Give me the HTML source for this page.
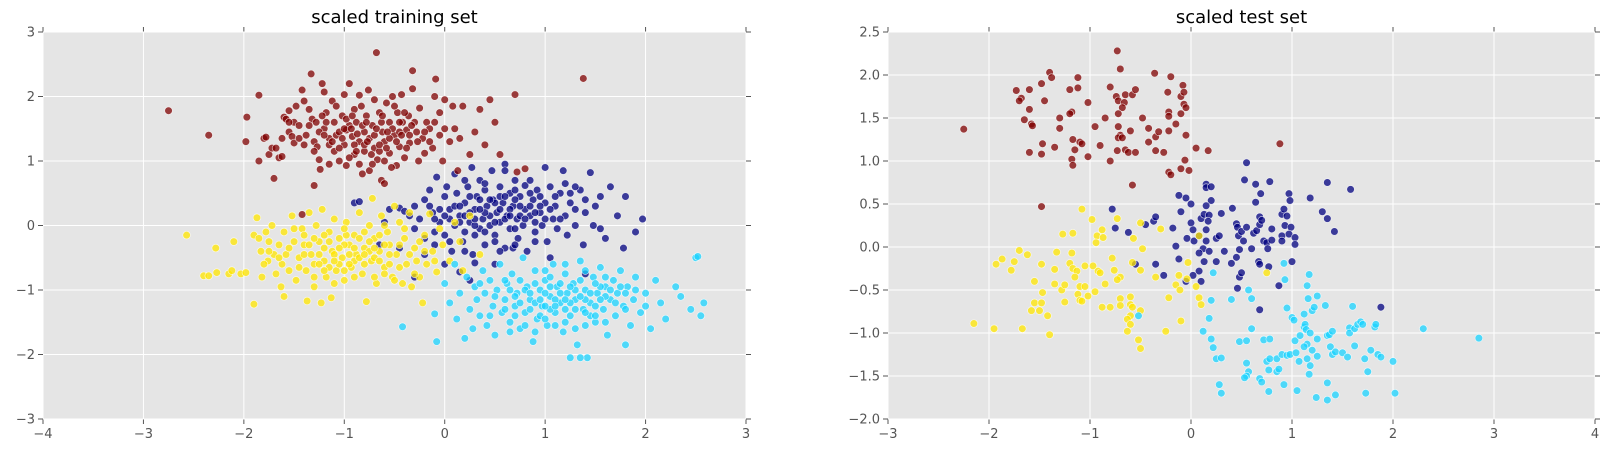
<!DOCTYPE html>
<html><head><meta charset="utf-8"><style>
html,body{margin:0;padding:0;background:#fff;}
svg{display:block;font-family:"DejaVu Sans","Liberation Sans",sans-serif;}
</style></head><body>
<svg id="chart" width="1606" height="454" viewBox="0 0 1606 454" xmlns="http://www.w3.org/2000/svg"></svg>
<script>
const trainRed=[[-2.75,1.78],[-2.35,1.4],[-1.97,1.68],[-1.98,1.3],[-1.85,2.02],[-1.85,1.0],[-1.8,1.35],[-1.78,1.37],[-1.75,1.1],[-1.72,1.2],[-1.7,0.73],[-1.68,1.2],[-1.65,1.05],[-1.62,1.07],[-1.6,1.68],[-1.58,1.65],[-1.55,1.78],[-1.55,1.45],[-1.52,1.38],[-1.5,1.6],[-1.5,1.28],[-1.48,1.85],[-1.45,1.55],[-1.42,2.1],[-1.4,1.93],[-1.38,1.4],[-1.35,1.8],[-1.33,2.35],[-1.32,1.65],[-1.3,1.3],[-1.28,1.6],[-1.27,1.22],[-1.25,1.02],[-1.24,0.87],[-1.22,2.2],[-1.2,1.5],[-1.2,2.07],[-1.18,1.75],[-1.15,1.35],[-1.12,1.93],[-1.1,1.6],[-1.1,1.15],[-1.08,1.4],[-1.05,1.45],[-1.05,1.0],[-1.02,1.7],[-1.0,2.03],[-1.0,1.25],[-0.98,0.93],[-0.95,1.55],[-0.95,2.2],[-0.92,1.38],[-0.9,1.8],[-0.9,1.1],[-0.88,1.6],[-0.85,1.3],[-0.85,2.02],[-0.82,0.8],[-0.8,1.45],[-0.8,1.15],[-0.78,1.7],[-0.76,2.1],[-0.75,1.35],[-0.75,0.85],[-0.72,1.55],[-0.7,1.95],[-0.7,1.2],[-0.68,2.68],[-0.67,1.02],[-0.65,1.75],[-0.63,0.7],[-0.62,1.45],[-0.6,1.3],[-0.6,0.65],[-0.58,1.9],[-0.55,1.6],[-0.55,1.12],[-0.52,2.0],[-0.5,1.4],[-0.48,0.93],[-0.47,1.75],[-0.45,1.22],[-0.43,2.03],[-0.42,1.6],[-0.4,1.05],[-0.38,1.48],[-0.36,1.7],[-0.35,1.28],[-0.32,2.12],[-0.32,2.4],[-0.3,1.6],[-0.28,1.45],[-0.26,1.0],[-0.25,1.82],[-0.22,1.35],[-0.2,1.12],[-0.18,1.6],[-0.15,1.5],[-0.12,1.2],[-0.1,2.0],[-0.09,2.27],[-0.05,1.75],[-0.05,1.4],[-0.02,1.0],[0.0,1.95],[0.05,1.3],[0.08,1.85],[0.1,1.5],[0.13,0.85],[0.15,1.35],[0.18,1.85],[0.25,1.1],[0.3,1.45],[0.35,1.8],[0.4,1.25],[0.45,1.95],[0.5,1.6],[0.55,1.1],[0.7,2.03],[0.72,0.83],[0.8,0.88],[1.38,2.28],[-1.42,0.17],[-1.3,0.62],[-0.98,1.48],[-0.9,1.25],[-0.7,1.4],[-0.65,1.15],[-1.15,1.25],[-0.8,1.25],[-0.55,1.35],[-1.0,1.5],[-0.45,1.45]];
const trainRedExtra=[[-1.25,1.45],[-1.18,1.6],[-1.12,1.3],[-1.05,1.2],[-0.98,1.65],[-0.93,1.5],[-0.87,1.42],[-0.82,1.55],[-0.77,1.3],[-0.73,1.1],[-0.68,1.5],[-0.63,1.6],[-0.58,1.2],[-0.52,1.5],[-0.48,1.3],[-0.43,1.4],[-0.38,1.2],[-0.33,1.55],[-0.27,1.3],[-0.2,1.45],[-1.35,1.55],[-1.4,1.25],[-1.45,1.35],[-1.22,1.7],[-1.08,1.85],[-0.92,1.7],[-0.83,1.85],[-0.62,1.7],[-0.5,1.85],[-0.4,1.75],[-0.95,1.05],[-0.85,0.95],[-0.72,0.95],[-0.6,1.0],[-0.53,0.9],[-1.15,0.95],[-1.3,1.15],[-0.15,1.3],[-0.1,1.6],[0.0,1.5],[-1.02,1.35],[-0.88,1.15],[-0.78,1.6],[-0.57,1.45],[-0.65,1.25],[-1.2,1.4],[-0.35,1.4],[-0.45,1.6],[-1.55,1.6],[-1.62,1.35]];
const trainNavy=[[-0.9,0.35],[-0.85,0.37],[-0.55,0.25],[-0.45,0.27],[-0.4,0.22],[-0.35,0.15],[-0.3,0.3],[-0.3,-0.05],[-0.25,0.1],[-0.2,0.4],[-0.2,-0.2],[-0.15,0.55],[-0.12,0.2],[-0.1,-0.3],[-0.08,0.75],[-0.05,0.05],[0.0,0.45],[0.0,-0.15],[0.02,0.6],[0.05,0.25],[0.07,-0.4],[0.1,0.0],[0.1,0.8],[0.12,0.5],[0.15,0.15],[0.18,-0.25],[0.2,0.35],[0.2,-0.1],[0.23,0.6],[0.25,0.05],[0.27,0.9],[0.28,-0.45],[0.3,0.25],[0.32,0.45],[0.35,-0.05],[0.35,0.7],[0.38,0.1],[0.4,0.55],[0.4,-0.3],[0.42,0.3],[0.45,0.0],[0.47,0.85],[0.48,0.4],[0.5,-0.15],[0.52,0.2],[0.55,0.6],[0.55,0.05],[0.58,0.35],[0.6,-0.35],[0.6,0.95],[0.62,0.15],[0.65,0.5],[0.65,-0.05],[0.68,0.3],[0.7,0.7],[0.72,0.1],[0.73,-0.2],[0.75,0.45],[0.78,0.0],[0.8,0.25],[0.8,0.62],[0.82,-0.4],[0.85,0.15],[0.88,0.4],[0.9,-0.1],[0.92,0.55],[0.95,0.2],[0.97,0.0],[1.0,0.35],[1.0,0.9],[1.02,-0.25],[1.05,0.6],[1.08,0.1],[1.1,0.3],[1.12,-0.05],[1.15,0.5],[1.18,0.85],[1.2,0.15],[1.22,-0.15],[1.25,0.35],[1.3,0.0],[1.35,0.55],[1.38,-0.3],[1.4,0.2],[1.45,0.82],[1.48,0.0],[1.55,0.45],[1.6,-0.2],[1.65,0.6],[1.72,0.15],[1.78,-0.35],[1.8,0.45],[1.9,-0.1],[1.97,0.1],[1.55,-0.05],[0.6,0.85],[0.35,0.4],[0.45,0.15],[0.6,0.1],[0.85,0.3],[0.75,0.15],[0.95,0.3],[0.5,0.35],[0.25,0.2],[0.15,0.05],[0.7,-0.05],[1.1,0.45],[0.3,0.0],[0.4,-0.1],[0.05,0.1],[-0.05,0.25],[0.2,0.7],[0.55,0.45],[0.9,0.05],[1.3,0.25],[0.65,0.25],[-0.6,0.05],[-0.45,-0.35],[-0.2,-0.45],[0.0,-0.6],[0.15,-0.72],[0.3,-0.58],[0.5,-0.6],[0.68,-0.35],[1.05,-0.5],[1.4,-0.75],[-0.65,-0.3],[-0.3,-0.8],[0.25,-0.85]];
const trainNavyExtra=[[0.1,0.3],[0.2,0.15],[0.3,0.1],[0.4,0.2],[0.5,0.05],[0.55,0.25],[0.65,0.15],[0.7,0.4],[0.8,0.1],[0.9,0.2],[1.0,0.1],[1.05,0.25],[0.35,0.25],[0.45,0.4],[0.6,0.45],[0.75,0.3],[0.85,0.5],[0.95,0.45],[0.25,0.45],[0.15,0.3],[0.0,0.15],[-0.1,0.1],[-0.15,0.3],[0.3,-0.15],[0.5,-0.25],[0.7,-0.3],[0.9,-0.25],[1.15,0.1],[1.25,0.5],[1.4,0.4],[0.4,0.65],[0.7,0.55],[0.85,0.7],[1.2,0.65],[1.5,0.3],[0.55,-0.4],[0.2,-0.4],[-0.1,-0.1],[0.05,-0.25],[1.3,0.6]];
const trainYellow=[[-2.57,-0.15],[-2.4,-0.78],[-2.35,-0.78],[-2.28,-0.35],[-2.27,-0.73],[-2.15,-0.75],[-2.12,-0.7],[-2.1,-0.25],[-2.03,-0.75],[-1.98,-0.73],[-1.9,-1.22],[-1.9,-0.15],[-1.87,0.12],[-1.85,-0.2],[-1.83,-0.4],[-1.82,-0.8],[-1.78,-0.1],[-1.76,-0.55],[-1.75,-0.25],[-1.72,0.0],[-1.7,-0.45],[-1.68,-0.75],[-1.65,-0.3],[-1.63,-0.95],[-1.62,-0.6],[-1.6,-0.1],[-1.6,-1.1],[-1.58,-0.45],[-1.55,-0.7],[-1.52,0.15],[-1.5,-0.25],[-1.48,-0.85],[-1.45,-0.5],[-1.42,-0.05],[-1.4,-0.3],[-1.38,-0.7],[-1.37,-1.17],[-1.35,0.2],[-1.33,-0.45],[-1.3,-0.6],[-1.3,-0.95],[-1.28,0.0],[-1.25,-0.25],[-1.23,-1.2],[-1.22,0.25],[-1.2,-0.55],[-1.18,-0.8],[-1.15,-0.1],[-1.13,-1.12],[-1.12,-0.4],[-1.1,0.1],[-1.08,-0.7],[-1.05,-0.2],[-1.02,-0.5],[-1.0,-0.85],[-0.98,0.05],[-0.95,-0.3],[-0.93,-0.65],[-0.9,-0.15],[-0.88,-0.45],[-0.85,0.2],[-0.82,-0.75],[-0.8,-0.35],[-0.78,-1.18],[-0.75,0.0],[-0.73,-0.55],[-0.72,0.42],[-0.7,-0.2],[-0.68,-0.9],[-0.65,-0.4],[-0.63,0.15],[-0.6,-0.65],[-0.57,-0.1],[-0.55,-0.3],[-0.52,-0.8],[-0.5,0.3],[-0.48,-0.45],[-0.45,0.05],[-0.42,-0.9],[-0.4,-0.2],[-0.38,-0.6],[-0.35,0.2],[-0.33,-0.95],[-0.3,-0.35],[-0.28,-0.55],[-0.25,-0.8],[-0.22,-1.2],[-0.2,-0.15],[-0.18,-0.6],[-0.15,0.18],[-0.12,-0.4],[-0.08,-0.72],[-0.05,-0.05],[-0.02,-0.3],[0.05,-0.55],[0.1,0.05],[0.15,-0.25],[0.18,-0.7],[0.25,0.15],[0.35,-0.45],[-1.1,-0.45],[-1.0,-0.3],[-0.9,-0.55],[-0.85,-0.2],[-0.75,-0.4],[-1.2,-0.35],[-1.3,-0.2],[-0.95,-0.45],[-1.05,-0.6],[-0.7,-0.5],[-0.6,-0.3],[-1.4,-0.45],[-0.8,-0.6],[-1.15,-0.65],[-0.65,-0.15],[-0.55,-0.6],[-1.25,-0.45],[-0.98,-0.15]];
const trainYellowExtra=[[-1.35,-0.3],[-1.25,-0.6],[-1.15,-0.25],[-1.05,-0.35],[-0.95,-0.6],[-0.85,-0.5],[-0.75,-0.25],[-0.65,-0.55],[-0.55,-0.45],[-0.45,-0.65],[-1.45,-0.65],[-1.55,-0.35],[-1.65,-0.5],[-1.2,-0.15],[-1.0,-0.05],[-0.8,-0.1],[-0.6,0.0],[-0.4,-0.05],[-0.3,-0.75],[-0.5,-0.85],[-0.7,-0.8],[-0.9,-0.8],[-1.1,-0.9],[-1.3,-0.8],[-1.0,-0.7],[-0.8,-0.45],[-1.1,-0.55],[-0.7,-0.35],[-0.9,-0.35],[-1.2,-0.7],[-1.4,-0.15],[-1.5,-0.05],[-0.35,-0.45],[-0.2,-0.4],[-0.1,-0.55],[-0.6,-0.75],[-1.75,-0.4],[-1.8,-0.6],[-0.45,-0.3],[-0.25,-0.25]];
const trainCyan=[[-0.42,-1.57],[-0.08,-1.8],[-0.1,-1.37],[0.0,-0.9],[0.05,-1.2],[0.1,-0.6],[0.12,-1.45],[0.15,-1.05],[0.2,-1.75],[0.22,-0.8],[0.25,-1.3],[0.28,-1.6],[0.3,-0.95],[0.32,-1.15],[0.35,-1.4],[0.38,-0.7],[0.4,-1.05],[0.42,-1.55],[0.45,-0.85],[0.48,-1.25],[0.5,-1.7],[0.52,-1.0],[0.55,-0.6],[0.57,-1.35],[0.6,-1.15],[0.62,-0.9],[0.65,-1.5],[0.67,-0.75],[0.7,-1.25],[0.72,-1.05],[0.75,-1.6],[0.78,-0.5],[0.8,-1.35],[0.82,-0.95],[0.85,-1.15],[0.88,-1.8],[0.9,-0.7],[0.92,-1.45],[0.95,-1.0],[0.97,-1.25],[1.0,-0.85],[1.02,-1.55],[1.05,-1.1],[1.08,-0.6],[1.1,-1.35],[1.12,-0.95],[1.15,-1.2],[1.18,-1.65],[1.2,-0.75],[1.22,-1.05],[1.25,-1.4],[1.28,-0.9],[1.3,-1.15],[1.32,-1.85],[1.35,-0.55],[1.38,-1.3],[1.4,-1.0],[1.42,-2.05],[1.45,-1.2],[1.48,-0.8],[1.5,-1.5],[1.52,-1.05],[1.55,-0.65],[1.58,-1.3],[1.6,-0.95],[1.62,-1.7],[1.65,-1.15],[1.68,-0.85],[1.7,-1.4],[1.72,-1.05],[1.75,-0.7],[1.78,-1.25],[1.8,-1.85],[1.82,-0.95],[1.85,-1.55],[1.88,-1.15],[1.9,-0.8],[1.95,-1.35],[2.0,-1.05],[2.05,-1.6],[2.1,-0.85],[2.15,-1.2],[2.2,-1.45],[2.3,-0.95],[2.35,-1.1],[2.45,-1.3],[2.5,-0.5],[2.52,-0.48],[2.55,-1.4],[2.58,-1.2],[1.25,-2.05],[1.35,-2.05],[0.8,-1.0],[0.9,-1.2],[1.0,-1.05],[1.1,-1.15],[1.2,-1.3],[1.3,-1.0],[1.4,-1.15],[1.5,-1.25],[0.7,-1.1],[0.6,-1.3],[1.6,-1.1],[0.95,-1.4],[1.15,-0.9],[1.35,-0.85],[1.05,-1.3],[0.85,-1.3],[1.45,-1.4],[1.25,-1.2],[1.55,-0.95],[0.75,-0.85],[1.7,-1.2],[0.5,-1.1],[1.8,-1.05],[0.65,-1.0]];
const trainCyanExtra=[[0.85,-1.05],[0.95,-1.15],[1.05,-0.95],[1.15,-1.05],[1.25,-0.95],[1.35,-1.1],[1.45,-1.05],[1.55,-1.15],[1.65,-1.0],[1.0,-1.25],[1.1,-1.25],[1.2,-1.15],[1.3,-1.3],[1.4,-1.35],[0.9,-0.9],[1.0,-0.7],[1.2,-0.6],[1.4,-0.7],[1.6,-0.8],[0.7,-1.4],[0.8,-1.55],[1.0,-1.45],[1.2,-1.5],[1.4,-1.55],[1.6,-1.5],[0.6,-0.85],[0.45,-1.4],[0.35,-0.9],[1.8,-1.3],[1.9,-1.0],[2.0,-1.25],[1.75,-0.95],[1.5,-1.4],[0.75,-1.2],[1.1,-1.55],[1.3,-1.6],[0.65,-1.65],[0.9,-1.65],[1.05,-0.8],[1.5,-0.9]];
const testRed=[[-2.25,1.37],[-1.4,2.03],[-1.38,1.97],[-1.48,1.9],[-1.73,1.82],[-1.68,1.73],[-1.7,1.7],[-1.6,1.83],[-1.6,1.6],[-1.65,1.48],[-1.58,1.43],[-1.57,1.41],[-1.6,1.1],[-1.48,1.08],[-1.47,1.2],[-1.35,1.16],[-1.45,1.7],[-1.3,1.5],[-1.3,1.38],[-1.2,1.83],[-1.12,1.85],[-1.12,1.97],[-1.18,1.57],[-1.2,1.55],[-1.17,1.25],[-1.1,1.22],[-1.08,1.2],[-1.15,1.13],[-1.18,1.02],[-1.17,0.95],[-1.02,1.05],[-1.02,1.68],[-0.95,1.4],[-0.9,1.18],[-0.8,1.0],[-0.85,1.5],[-0.8,1.86],[-0.73,2.28],[-0.7,2.07],[-0.74,1.75],[-0.72,1.7],[-0.65,1.77],[-0.58,1.77],[-0.55,1.83],[-0.66,1.68],[-0.68,1.62],[-0.72,1.55],[-0.72,1.4],[-0.7,1.3],[-0.72,1.27],[-0.68,1.27],[-0.6,1.35],[-0.65,1.13],[-0.73,1.12],[-0.62,1.1],[-0.55,1.1],[-0.48,1.5],[-0.42,1.38],[-0.35,1.28],[-0.32,1.34],[-0.36,2.02],[-0.42,1.22],[-0.35,1.12],[-0.27,1.1],[-0.22,1.57],[-0.22,1.52],[-0.22,1.35],[-0.23,1.8],[-0.2,1.98],[-0.15,1.43],[-0.1,1.75],[-0.08,1.88],[-0.07,1.8],[-0.1,1.55],[-0.07,1.66],[-0.05,1.62],[-0.05,1.3],[0.05,1.15],[0.17,1.12],[-0.06,1.01],[-0.1,0.91],[-0.02,0.89],[-0.22,0.87],[-0.2,0.84],[-0.58,0.72],[-1.48,0.47],[0.88,1.2]];
const testNavy=[[-0.78,0.44],[-0.75,0.22],[-0.62,0.17],[-0.45,0.26],[-0.37,0.3],[-0.35,0.35],[-0.55,-0.2],[-0.35,-0.2],[-0.27,-0.33],[-0.18,0.22],[-0.15,0.01],[-0.12,0.6],[-0.1,0.41],[-0.05,0.57],[0.0,0.5],[0.0,0.28],[0.02,0.2],[-0.04,0.1],[0.03,0.07],[0.08,0.13],[0.1,0.33],[0.15,0.73],[0.15,0.69],[0.2,0.7],[0.2,0.54],[0.15,0.48],[0.13,0.38],[0.18,0.37],[0.17,0.3],[0.15,0.2],[0.15,0.07],[0.12,-0.02],[0.18,-0.05],[0.08,-0.07],[0.13,-0.17],[0.08,-0.28],[0.02,-0.33],[-0.05,-0.4],[0.1,-0.4],[-0.12,-0.14],[0.25,0.1],[0.28,0.13],[0.25,-0.17],[0.3,0.39],[0.33,-0.05],[0.4,-0.19],[0.41,0.45],[0.45,0.27],[0.46,0.23],[0.47,0.13],[0.45,-0.12],[0.48,-0.03],[0.5,0.18],[0.55,0.23],[0.52,0.07],[0.53,0.78],[0.55,0.98],[0.6,-0.02],[0.62,0.16],[0.64,0.73],[0.64,0.52],[0.65,0.19],[0.68,0.26],[0.69,0.62],[0.68,0.35],[0.7,0.31],[0.67,-0.17],[0.68,-0.2],[0.72,0.07],[0.75,0.05],[0.76,-0.02],[0.77,-0.23],[0.78,0.76],[0.8,0.08],[0.8,0.21],[0.9,0.38],[0.92,0.44],[0.93,0.25],[0.97,0.62],[0.98,0.54],[0.95,0.36],[0.99,0.23],[0.9,0.13],[0.97,0.15],[0.9,0.07],[1.03,0.11],[1.03,0.03],[1.0,-0.17],[1.18,0.57],[1.3,0.41],[1.35,0.75],[1.35,0.33],[1.42,0.18],[1.58,0.67],[0.87,-0.45],[0.68,-0.73],[0.46,-0.48],[0.48,-0.35],[0.5,-0.3],[1.88,-0.7]];
const testYellow=[[-2.15,-0.89],[-1.95,-0.95],[-1.67,-0.95],[-1.93,-0.2],[-1.87,-0.14],[-1.75,-0.17],[-1.7,-0.04],[-1.78,-0.27],[-1.62,-0.09],[-1.55,-0.4],[-1.55,-0.65],[-1.48,-0.65],[-1.47,-0.53],[-1.5,-0.74],[-1.58,-0.74],[-1.42,-0.8],[-1.4,-1.02],[-1.48,-0.2],[-1.35,-0.26],[-1.35,-0.43],[-1.33,-0.06],[-1.27,0.15],[-1.28,-0.5],[-1.25,-0.64],[-1.25,-0.44],[-1.17,0.16],[-1.2,-0.19],[-1.18,-0.07],[-1.17,-0.25],[-1.13,-0.28],[-1.15,-0.35],[-1.12,-0.55],[-1.1,-0.62],[-1.08,-0.63],[-1.1,-0.46],[-1.05,-0.46],[-1.08,0.44],[-1.05,-0.22],[-1.02,-0.57],[-0.98,0.32],[-0.97,-0.22],[-0.95,-0.52],[-0.93,0.13],[-0.94,0.05],[-0.92,-0.28],[-0.9,-0.3],[-0.88,0.2],[-0.87,0.11],[-0.85,-0.43],[-0.88,-0.7],[-0.8,-0.7],[-0.78,-0.13],[-0.76,-0.27],[-0.73,0.33],[-0.7,-0.35],[-0.73,-0.38],[-0.7,-0.6],[-0.7,-0.68],[-0.6,-0.58],[-0.6,-0.67],[-0.58,-0.7],[-0.6,-0.8],[-0.63,-0.84],[-0.6,-0.9],[-0.63,-0.98],[-0.52,-1.08],[-0.5,-1.18],[-0.5,-0.74],[-0.58,-0.18],[-0.57,0.1],[-0.5,0.28],[-0.48,-0.02],[-0.5,-0.27],[-0.35,-0.35],[-0.3,0.21],[-0.22,-0.59],[-0.25,-0.98],[-0.15,-0.44],[-0.12,-0.33],[-0.11,-0.5],[-0.1,-0.86],[-0.03,-0.18],[-0.04,-0.37],[0.05,-0.46],[0.08,-0.59],[0.1,-0.67],[0.08,0.13],[0.75,-0.3]];
const testCyan=[[-0.52,-0.8],[0.22,-0.3],[0.2,-0.62],[0.18,-0.83],[0.12,-0.98],[0.2,-1.07],[0.22,-1.17],[0.25,-1.3],[0.3,-1.29],[0.28,-1.6],[0.3,-1.7],[0.4,-0.61],[0.48,-1.1],[0.55,-1.09],[0.57,-0.5],[0.6,-0.95],[0.6,-0.6],[0.55,-1.35],[0.57,-1.45],[0.55,-1.5],[0.53,-1.52],[0.68,-1.53],[0.7,-1.57],[0.72,-1.08],[0.75,-1.33],[0.78,-1.3],[0.77,-1.43],[0.77,-1.68],[0.78,-1.07],[0.85,-1.3],[0.85,-1.45],[0.87,-1.42],[0.9,-1.25],[0.95,-1.26],[0.98,-1.25],[0.92,-1.6],[0.92,-0.19],[0.93,-0.38],[0.95,-0.71],[1.0,-0.82],[1.02,-0.85],[1.03,-1.09],[1.04,-1.23],[1.05,-1.67],[1.07,-1.33],[1.08,-1.03],[1.12,-0.93],[1.12,-0.78],[1.13,-0.9],[1.14,-0.96],[1.15,-1.13],[1.12,-1.16],[1.16,-0.6],[1.15,-0.45],[1.17,-0.32],[1.15,-1.3],[1.18,-1.38],[1.17,-1.48],[1.2,-0.74],[1.22,-0.7],[1.25,-0.57],[1.18,-1.0],[1.2,-1.2],[1.25,-1.07],[1.25,-1.27],[1.24,-1.75],[1.33,-0.68],[1.35,-1.03],[1.37,-1.02],[1.4,-0.98],[1.38,-1.16],[1.4,-1.25],[1.43,-1.22],[1.35,-1.58],[1.35,-1.78],[1.43,-1.72],[1.5,-1.23],[1.55,-1.28],[1.57,-0.94],[1.57,-1.0],[1.6,-0.69],[1.62,-0.95],[1.65,-0.9],[1.68,-0.87],[1.7,-0.9],[1.62,-1.15],[1.72,-1.3],[1.75,-1.45],[1.73,-1.7],[1.78,-1.2],[1.82,-0.93],[1.83,-0.9],[1.85,-1.25],[1.88,-1.28],[2.0,-1.33],[2.02,-1.7],[2.3,-0.95],[2.85,-1.06]];
const trainXTicks=[-4,-3,-2,-1,0,1,2,3];
const trainYTicks=[-3,-2,-1,0,1,2,3];
const testXTicks=[-3,-2,-1,0,1,2,3,4];
const testYTicks=[-2.0,-1.5,-1.0,-0.5,0.0,0.5,1.0,1.5,2.0,2.5];

const NS="http://www.w3.org/2000/svg";
const svg=document.getElementById('chart');
function mk(tag,attrs,parent){const e=document.createElementNS(NS,tag);for(const k in attrs)e.setAttribute(k,attrs[k]);(parent||svg).appendChild(e);return e;}
function fmt(v,dec){let s=dec?v.toFixed(1):String(v);return s.replace('-','\u2212');}

function panel(name,title,box,xt,yt,dec,series){
  const g=mk('g',{});
  
  
  const x0=box.l,x1=box.r,y0=box.t,y1=box.b;
  const xmin=xt[0],xmax=xt[xt.length-1],ymin=yt[0],ymax=yt[yt.length-1];
  const sx=v=>x0+(v-xmin)/(xmax-xmin)*(x1-x0);
  const sy=v=>y1-(v-ymin)/(ymax-ymin)*(y1-y0);
  const bg=mk('rect',{x:x0,y:y0,width:x1-x0,height:y1-y0,fill:'#e5e5e5'},g);
  
  
  xt.forEach(v=>{
    const X=sx(v);
    mk('line',{x1:X,x2:X,y1:y0,y2:y1,stroke:'#fff','stroke-width':1},g);
    mk('line',{x1:X,x2:X,y1:y1,y2:y1+5,stroke:'#555','stroke-width':1},g);
    mk('line',{x1:X,x2:X,y1:y0,y2:y0-5,stroke:'#555','stroke-width':1},g);
    const t=mk('text',{x:X,y:y1+19,'text-anchor':'middle','font-size':13,fill:'#555'},g);
    t.textContent=fmt(v,false);
    
    
  });
  yt.forEach(v=>{
    const Y=sy(v);
    mk('line',{x1:x0,x2:x1,y1:Y,y2:Y,stroke:'#fff','stroke-width':1},g);
    mk('line',{x1:x0-5,x2:x0,y1:Y,y2:Y,stroke:'#555','stroke-width':1},g);
    mk('line',{x1:x1,x2:x1+5,y1:Y,y2:Y,stroke:'#555','stroke-width':1},g);
    const t=mk('text',{x:x0-8,y:Y+4.5,'text-anchor':'end','font-size':13,fill:'#555'},g);
    t.textContent=fmt(v,dec);
    
    
  });
  series.forEach(s=>{
    const sg=mk('g',{},g);
    
    
    s.data.forEach(p=>{
      const c=mk('circle',{cx:sx(p[0]),cy:sy(p[1]),r:3.8,fill:s.color,'fill-opacity':0.75,stroke:'#fff','stroke-width':0.6,'stroke-opacity':0.8},sg);
      
      
    });
  });
  const tt=mk('text',{x:(x0+x1)/2,y:y0-9,'text-anchor':'middle','font-size':18,fill:'#000'},g);
  tt.textContent=title;
  
  
}
panel('training-panel','scaled training set',{l:43,r:746,t:32,b:419},trainXTicks,trainYTicks,false,[
 {name:'class-navy',data:trainNavy.concat(trainNavyExtra),color:'#00007f'},
 {name:'class-yellow',data:trainYellow.concat(trainYellowExtra),color:'#ffe500'},
 {name:'class-cyan',data:trainCyan.concat(trainCyanExtra),color:'#19d3ff'},
 {name:'class-darkred',data:trainRed.concat(trainRedExtra),color:'#7f0000'}]);
panel('test-panel','scaled test set',{l:888,r:1595,t:32,b:419},testXTicks,testYTicks,true,[
 {name:'class-navy',data:testNavy,color:'#00007f'},
 {name:'class-yellow',data:testYellow,color:'#ffe500'},
 {name:'class-cyan',data:testCyan,color:'#19d3ff'},
 {name:'class-darkred',data:testRed,color:'#7f0000'}]);
</script>
</body></html>
